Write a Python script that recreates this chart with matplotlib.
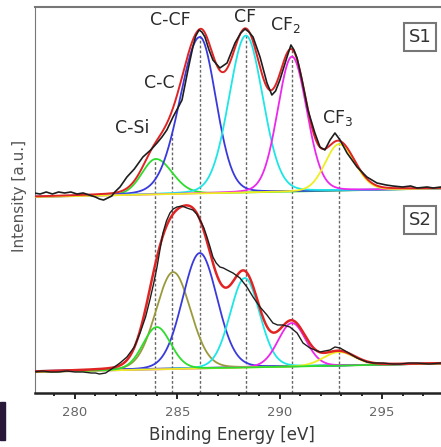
import matplotlib
matplotlib.use("Agg")
import matplotlib.pyplot as plt
import numpy as np
from matplotlib.patches import Rectangle

# measured C1s spectra (binding energy [eV], intensity [a.u.])
s1_energy = [278.0, 278.3, 278.6, 278.9, 279.2, 279.5, 279.8, 280.1, 280.4, 280.7,
             281.0, 281.2, 281.4, 281.6, 281.8, 281.95, 282.2, 282.54, 282.9, 283.32,
             283.7, 284.01, 284.25, 284.49, 284.79, 285.0, 285.23, 285.52, 285.76, 285.9,
             286.06, 286.2, 286.35, 286.55, 286.74, 287.08, 287.43, 287.82, 288.1, 288.31,
             288.5, 288.7, 289.04, 289.38, 289.62, 289.8, 290.01, 290.36, 290.55, 290.7,
             290.85, 291.09, 291.38, 291.72, 291.97, 292.21, 292.46, 292.7, 292.95, 293.29,
             293.78, 294.26, 294.75, 295.2, 295.53, 296.0, 296.4, 296.71, 297.2, 297.5,
             297.88]
s1_intensity = [200, 199, 201, 199, 201, 200, 201, 199, 200, 198,
                196, 194, 193, 195, 197, 201, 206, 216, 224, 236,
                243, 250, 256, 263, 276, 284, 293, 323, 346, 357,
                363, 361, 356, 343, 333, 325, 330, 350, 360, 364,
                361, 356, 336, 310, 298, 302, 313, 336, 348, 343,
                335, 313, 283, 260, 246, 243, 253, 260, 253, 240,
                226, 216, 210, 208, 207, 206, 207, 205, 206, 205,
                206]

s2_energy = [278.0, 278.4, 278.8, 279.2, 279.6, 280.0, 280.4, 280.8, 281.0, 281.2,
             281.5, 281.86, 282.2, 282.54, 282.9, 283.18, 283.45, 283.66, 283.85, 284.01,
             284.15, 284.3, 284.47, 284.64, 284.8, 284.98, 285.23, 285.47, 285.76, 285.95,
             286.11, 286.3, 286.45, 286.6, 286.74, 286.9, 287.08, 287.25, 287.43, 287.72,
             288.06, 288.4, 288.7, 289.04, 289.38, 289.67, 289.9, 290.16, 290.5, 290.85,
             291.14, 291.48, 291.97, 292.2, 292.46, 292.7, 292.95, 293.29, 293.78, 294.26,
             294.6, 295.05, 295.5, 295.88, 296.3, 296.71, 297.3, 297.88]
s2_intensity = [21, 22, 21, 21, 22, 21, 21, 20, 20, 19,
                20, 25, 30, 36, 46, 60, 76, 93, 110, 126,
                143, 160, 172, 180, 184, 186, 187, 185, 183, 179,
                173, 165, 156, 146, 136, 130, 126, 125, 123, 120,
                115, 106, 96, 86, 78, 70, 68, 68, 66, 60,
                50, 45, 41, 42, 43, 46, 45, 41, 35, 31,
                30, 30, 29, 29, 30, 30, 29, 30]

# fitted components: centre [eV], height above background,
# FWHM on the low / high energy side [eV]
s1_centers = [283.95, 286.1, 288.35, 290.6, 292.9]
s1_heights = [35.5, 156.5, 157, 135, 46.5]
s1_fwhm_lo = [1.6, 2.3, 1.95, 1.65, 1.6]
s1_fwhm_hi = [1.9, 1.85, 1.95, 1.7, 1.8]
s1_background = [196, 204.5]   # linear background at 278 / 297.9 eV

s2_centers = [284.0, 284.8, 286.1, 288.3, 290.6, 292.9]
s2_heights = [42.4, 97, 115.5, 89.6, 43.6, 13.6]
s2_fwhm_lo = [1.6, 2.0, 2.0, 1.7, 1.6, 1.8]
s2_fwhm_hi = [1.6, 2.0, 2.0, 1.7, 1.6, 1.8]
s2_background = [21, 29.5]
s2_baseline_line = [22, 29.5]

# reference energies marked with dashed lines, and where they start
marker_energy = [283.9, 284.75, 286.1, 288.35, 290.6, 292.9]
marker_top = [234, 260, 358, 360, 346, 258]

peak_labels = ['C-Si', 'C-C', 'C-CF', 'CF', 'CF$_2$', 'CF$_3$']

GREEN = '#2edc2e'
BLUE = '#3a3adc'
CYAN = '#1ee6e6'
MAGENTA = '#ec28ec'
YELLOW = '#eeee22'
OLIVE = '#9a9a3c'
RED = '#e02424'


def pv(x, c, h, wl, wr, eta=0.1):
    w = np.where(x < c, wl, wr)
    g = np.exp(-4 * np.log(2) * (x - c) ** 2 / w ** 2)
    l = 1 / (1 + 4 * (x - c) ** 2 / w ** 2)
    return h * ((1 - eta) * g + eta * l)


def background(x, ends):
    return ends[0] + (x - 278.0) * (ends[1] - ends[0]) / 19.9


fig = plt.figure(figsize=(4.41, 4.47), dpi=100)
ax = fig.add_axes([35 / 441, 54 / 447, 406 / 441, 386 / 447])

x = np.linspace(277.5, 298.5, 1200)

# S1
bg1 = background(x, s1_background)
comps1 = [pv(x, *p) for p in zip(s1_centers, s1_heights, s1_fwhm_lo, s1_fwhm_hi)]
for comp, col in zip(comps1, [GREEN, BLUE, CYAN, MAGENTA, YELLOW]):
    ax.plot(x, bg1 + comp, color=col, lw=1.3, zorder=3)
ax.plot(x, bg1 + np.sum(comps1, axis=0), color=RED, lw=1.4, zorder=4)
ax.plot(s1_energy, s1_intensity, color='#1e1e1e', lw=1.2, zorder=5)

# S2
bg2 = background(x, s2_background)
ax.plot(x, background(x, s2_baseline_line), color='#1c1c8a', lw=1.3, zorder=3)
comps2 = [pv(x, *p) for p in zip(s2_centers, s2_heights, s2_fwhm_lo, s2_fwhm_hi)]
cols2 = [GREEN, OLIVE, BLUE, CYAN, MAGENTA, YELLOW]
for i in [1, 2, 3, 4, 5, 0]:
    ax.plot(x, bg2 + comps2[i], color=cols2[i], lw=1.3, zorder=3)
ax.plot(x, bg2 + np.sum(comps2, axis=0), color=RED, lw=1.8, zorder=4)
ax.plot(s2_energy, s2_intensity, color='#1e1e1e', lw=1.0, zorder=5)

ax.vlines(marker_energy, 0, marker_top, colors='#666666', lw=1.0,
          linestyles=(0, (2, 1.5)), zorder=2)

label_pos = [(282.78, 265), (284.1, 310), (284.64, 373), (288.3, 376),
             (290.26, 368), (292.85, 275)]
for txt, (lx, ly) in zip(peak_labels, label_pos):
    ax.text(lx, ly, txt, ha='center', va='center', fontsize=12.5, color='#2a2a2a')

for txt, ly in [('S1', 356), ('S2', 173)]:
    ax.text(296.85, ly, txt, ha='center', va='center', fontsize=13, color='#333333',
            bbox=dict(boxstyle='square,pad=0.25', fc='white', ec='#777777', lw=1.5))

ax.set_xlim(278.05, 297.88)
ax.set_ylim(0, 386)
ax.set_xticks([280, 285, 290, 295])
ax.set_xticks(np.arange(279, 298, 1), minor=True)
ax.set_yticks([])
ax.tick_params(axis='x', which='major', direction='out', length=4, width=1.2,
               labelsize=9.5, labelcolor='#666666', pad=5)
ax.tick_params(axis='x', which='minor', direction='out', length=2.5, width=1.2)
ax.spines['right'].set_visible(False)
ax.spines['bottom'].set_linewidth(1.8)
ax.spines['bottom'].set_color('#222222')
ax.spines['left'].set_color('#777777')
ax.spines['top'].set_color('#777777')
ax.spines['top'].set_linewidth(1.5)

ax.set_xlabel('Binding Energy [eV]', fontsize=12, color='#3a3a3a', labelpad=2)
ax.xaxis.set_label_coords(0.485, -0.085)
ax.set_ylabel('Intensity [a.u.]', fontsize=11, color='#555555')
ax.yaxis.set_label_coords(-0.02, 0.51)

# dark strip at the lower left corner of the picture
fig.patches.append(Rectangle((0, 7 / 447), 5 / 441, 38 / 447, transform=fig.transFigure,
                             color='#2a1838', zorder=10))

fig.savefig('out.png', dpi=100)
